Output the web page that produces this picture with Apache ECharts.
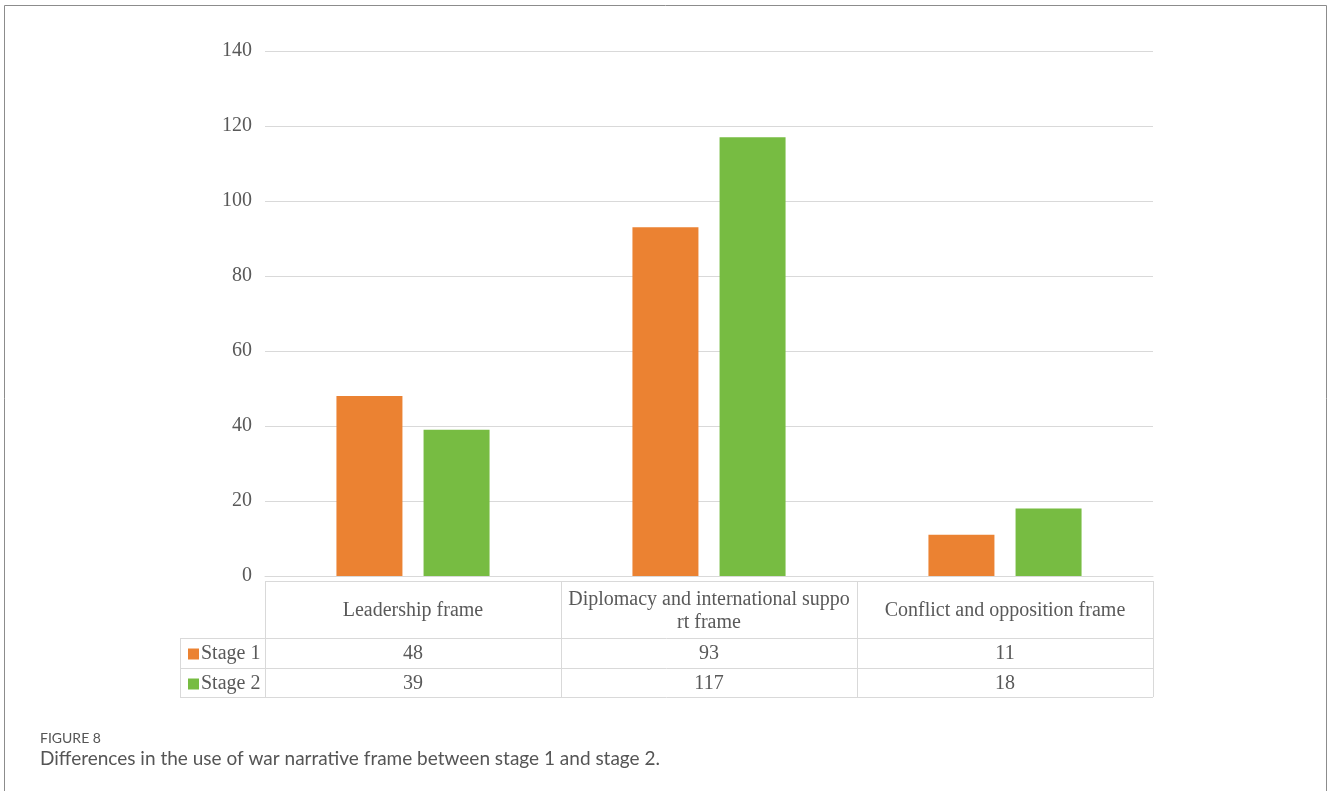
<!DOCTYPE html>
<html>
<head>
<meta charset="utf-8">
<script src="https://cdn.jsdelivr.net/npm/echarts@6/dist/echarts.min.js"></script>
<style>
  html, body { margin: 0; padding: 0; background: #fff; }
  #main { width: 1328px; height: 791px; }
</style>
</head>
<body>
<div id="main"></div>
<script>
// data
var categories = ['Leadership frame', 'Diplomacy and international suppo\nrt frame', 'Conflict and opposition frame'];
var stage1 = [48, 93, 11];
var stage2 = [39, 117, 18];
var seriesNames = ['Stage 1', 'Stage 2'];
var yTicks = { min: 0, max: 140, interval: 20 };

var serif = 'Liberation Serif';
var textGrey = '#595959';
var lineGrey = '#d9d9d9';
var colors = ['#EB8232', '#77BC42'];

var myChart = echarts.init(document.getElementById('main'));

// header + value rows of the data table, as one rich label per category
function tableLabel(value, idx) {
    var parts = String(value).split('\n');
    var head;
    if (parts.length > 1) {
        head = '{sp1| }\n{h2|' + parts[0] + '}\n{h2|' + parts[1] + '}\n{sp2| }';
    } else {
        head = '{h|' + value + '}';
    }
    return head + '\n{v1|' + stage1[idx] + '}\n{v2|' + stage2[idx] + '}';
}

var txt = { fontFamily: serif, fontSize: 20, color: textGrey, align: 'center' };

var option = {
    animation: false,
    color: colors,
    grid: { left: 265, right: 175, top: 51, bottom: 215 },
    legend: {
        orient: 'vertical',
        left: 183,
        top: 634,
        itemGap: 0,
        itemWidth: 11,
        itemHeight: 11,
        icon: 'rect',
        data: seriesNames,
        textStyle: { fontFamily: serif, fontSize: 20, color: textGrey, lineHeight: 30, padding: [0, 0, 0, -3] }
    },
    xAxis: {
        type: 'category',
        data: categories,
        axisTick: { show: false },
        axisLine: { lineStyle: { color: lineGrey, width: 1 } },
        axisLabel: {
            interval: 0,
            margin: 6,
            formatter: tableLabel,
            rich: {
                h: Object.assign({ lineHeight: 57 }, txt),
                sp1: Object.assign({ lineHeight: 6, fontSize: 4 }, txt),
                sp2: Object.assign({ lineHeight: 5, fontSize: 4 }, txt),
                h2: Object.assign({ lineHeight: 23 }, txt),
                v1: Object.assign({ lineHeight: 30 }, txt),
                v2: Object.assign({ lineHeight: 29 }, txt)
            }
        }
    },
    yAxis: {
        type: 'value',
        min: yTicks.min,
        max: yTicks.max,
        interval: yTicks.interval,
        axisLine: { show: false },
        axisTick: { show: false },
        axisLabel: { margin: 13, fontFamily: serif, fontSize: 20, color: textGrey },
        splitLine: { lineStyle: { color: lineGrey, width: 1 } }
    },
    series: [
        { name: seriesNames[0], type: 'bar', data: stage1, barWidth: 66, barGap: '32%' },
        { name: seriesNames[1], type: 'bar', data: stage2, barWidth: 66 }
    ]
};
myChart.setOption(option);

// table grid lines, placed from the category axis scale
var centers = categories.map(function (c, i) {
    return myChart.convertToPixel({ xAxisIndex: 0 }, i);
});
var band = centers[1] - centers[0];
var left = centers[0] - band / 2;
var right = centers[centers.length - 1] + band / 2;
var zeroY = myChart.convertToPixel({ yAxisIndex: 0 }, 0);
var rowTop = Math.round(zeroY) + 5;
var rowYs = [rowTop, rowTop + 57, rowTop + 87, rowTop + 116];
var legendLeft = 180;

var g = [];
function hline(x1, x2, y) {
    g.push({ type: 'line', silent: true, shape: { x1: x1, y1: y + 0.5, x2: x2, y2: y + 0.5 }, style: { stroke: lineGrey, lineWidth: 1 } });
}
function vline(x, y1, y2) {
    g.push({ type: 'line', silent: true, shape: { x1: x + 0.5, y1: y1, x2: x + 0.5, y2: y2 }, style: { stroke: lineGrey, lineWidth: 1 } });
}
hline(left, right, rowYs[0]);
hline(legendLeft, right, rowYs[1]);
hline(legendLeft, right, rowYs[2]);
hline(legendLeft, right, rowYs[3]);
for (var i = 0; i <= categories.length; i++) {
    vline(Math.round(left + band * i), rowYs[0], rowYs[3]);
}
vline(legendLeft, rowYs[1], rowYs[3]);

// figure frame and caption
g.push({ type: 'rect', silent: true, shape: { x: 4.5, y: 5.5, width: 1322, height: 820 }, style: { fill: null, stroke: '#8c8c8c', lineWidth: 1 } });
g.push({ type: 'text', silent: true, left: 40, top: 731, style: { text: 'FIGURE 8', font: '14px Lato', fill: '#555' } });
g.push({ type: 'text', silent: true, left: 40, top: 749, style: { text: 'Differences in the use of war narrative frame between stage 1 and stage 2.', font: '19px Lato', fill: '#555' } });

myChart.setOption({ graphic: g });
</script>
</body>
</html>
